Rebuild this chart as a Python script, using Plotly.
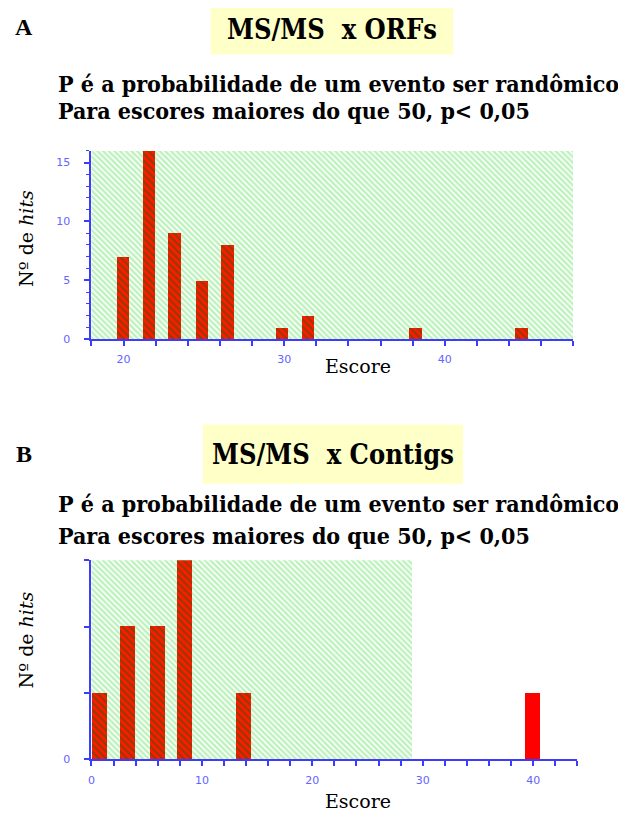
import plotly.graph_objects as go

# The page body has an 8px margin, so the figure is sized to fit inside it
OFF = 8
W, H = 626 - OFF, 822 - OFF

# ---------------- data ----------------
a_scores = [20.0, 21.6, 23.2, 24.9, 26.5, 29.9, 31.5, 38.2, 44.8]
a_hits = [7, 16, 9, 5, 8, 1, 2, 1, 1]
a_region = [18, 48]          # shaded "random" score region (x)
a_region_top = 16

b_scores = [0.8, 3.3, 6.0, 8.5, 13.8]
b_hits = [1, 2, 2, 3, 1]
b_sig_scores = [40.0]
b_sig_hits = [1]
b_region = [0, 29.1]
b_region_top = 3

a_xticks = [20, 30, 40]
a_yticks = [0, 5, 10, 15]
b_xticks = [0, 10, 20, 30, 40]
b_yticks = [0, 1, 2, 3]
b_yticklabels = ["0", "", "", ""]

title_a = "MS/MS  x ORFs"
title_b = "MS/MS  x Contigs"
sub1 = "P é a probabilidade de um evento ser randômico"
sub2 = "Para escores maiores do que 50, p< 0,05"
ylab = "Nº de <i>hits</i>"
xlab = "Escore"


def px(x):
    return (x - OFF) / W


def py(y):
    return 1 - (y - OFF) / H


AXIS_BLUE = "#3c3cff"
TICK_FONT = dict(family="DejaVu Sans", size=11, color="#6464ff")
SERIF = "Liberation Serif"
SUBFONT = "DejaVu Serif Condensed"

fig = go.Figure()

green_pat = dict(shape="\\", fgcolor="#78e478", bgcolor="white", size=4, solidity=0.6)
red_pat = dict(shape="\\", fgcolor="#2d5a00", bgcolor="#ff1a00", size=5, solidity=0.45)

# panel A
fig.add_trace(go.Bar(x=[(a_region[0] + a_region[1]) / 2], y=[a_region_top],
                     width=[a_region[1] - a_region[0]],
                     marker=dict(color="white", pattern=green_pat, line_width=0),
                     xaxis="x", yaxis="y", hoverinfo="skip", showlegend=False))
fig.add_trace(go.Bar(x=a_scores, y=a_hits, width=0.78,
                     marker=dict(color="#ff1a00", pattern=red_pat, line_width=0),
                     xaxis="x", yaxis="y", showlegend=False))

# panel B
fig.add_trace(go.Bar(x=[(b_region[0] + b_region[1]) / 2], y=[b_region_top],
                     width=[b_region[1] - b_region[0]],
                     marker=dict(color="white", pattern=green_pat, line_width=0),
                     xaxis="x2", yaxis="y2", hoverinfo="skip", showlegend=False))
fig.add_trace(go.Bar(x=b_scores, y=b_hits, width=1.35,
                     marker=dict(color="#ff1a00", pattern=red_pat, line_width=0),
                     xaxis="x2", yaxis="y2", showlegend=False))
fig.add_trace(go.Bar(x=b_sig_scores, y=b_sig_hits, width=1.35,
                     marker=dict(color="#ff0000", line_width=0),
                     xaxis="x2", yaxis="y2", showlegend=False))

axis_common = dict(showline=True, linecolor=AXIS_BLUE, linewidth=2, ticks="outside",
                   tickcolor=AXIS_BLUE, tickwidth=2, ticklen=5, showgrid=False,
                   zeroline=False, tickfont=TICK_FONT, fixedrange=True)

fig.update_layout(
    width=W, height=H, margin=dict(l=0, r=0, t=0, b=0),
    paper_bgcolor="white", plot_bgcolor="rgba(0,0,0,0)",
    barmode="overlay", bargap=0,
    xaxis=dict(domain=[px(88), px(573)], range=a_region, anchor="y",
               tickvals=a_xticks, ticklabelstandoff=4,
               minor=dict(dtick=2, tick0=18, ticks="outside", ticklen=5,
                          tickcolor=AXIS_BLUE, tickwidth=2),
               **axis_common),
    yaxis=dict(domain=[py(342), py(152)], range=[0, a_region_top], anchor="x",
               tickvals=a_yticks, ticklabelstandoff=12,
               minor=dict(dtick=1, ticks="outside", ticklen=3,
                          tickcolor=AXIS_BLUE, tickwidth=1),
               **axis_common),
    xaxis2=dict(domain=[px(88), px(577)], range=[0, 44], anchor="y2",
                tickvals=b_xticks, ticklabelstandoff=4,
                minor=dict(dtick=2, tick0=0, ticks="outside", ticklen=5,
                           tickcolor=AXIS_BLUE, tickwidth=2),
                **axis_common),
    yaxis2=dict(domain=[py(766), py(565)], range=[0, b_region_top], anchor="x2",
                tickvals=b_yticks, ticktext=b_yticklabels, ticklabelstandoff=12,
                **axis_common),
)

shapes = []
annots = []


def note(text, x, y, size, family, xanchor="center", angle=0):
    return dict(text=text, x=px(x), y=py(y), xref="paper", yref="paper",
                xanchor=xanchor, yanchor="middle", textangle=angle, showarrow=False,
                font=dict(family=family, size=size, color="black"))


for (x0, x1, y0, y1, title, label, ly, s1y, s2y, ay, exy) in [
    (208, 452, 5, 55, title_a, "A", 27, 84, 111, 240, 369),
    (200, 462, 428, 488, title_b, "B", 458, 508, 540, 645, 808),
]:
    shapes.append(dict(type="rect", xref="paper", yref="paper",
                       x0=px(x0), x1=px(x1), y0=py(y1), y1=py(y0),
                       fillcolor="#ffffc8", line_width=0, layer="below"))
    annots.append(note(f"<b>{title}</b>", (x0 + x1) / 2, (y0 + y1) / 2, 27, SUBFONT))
    annots.append(note(f"<b>{label}</b>", 20, ly, 24, SERIF))
    annots.append(note(f"<b>{sub1}</b>", 52, s1y, 23, SUBFONT, xanchor="left"))
    annots.append(note(f"<b>{sub2}</b>", 52, s2y, 23, SUBFONT, xanchor="left"))
    annots.append(note(ylab, 22, ay, 19, "DejaVu Serif", angle=-90))
    annots.append(note(xlab, 356, exy, 19, "DejaVu Serif"))

fig.update_layout(shapes=shapes, annotations=annots)
fig.write_html("out.html")
